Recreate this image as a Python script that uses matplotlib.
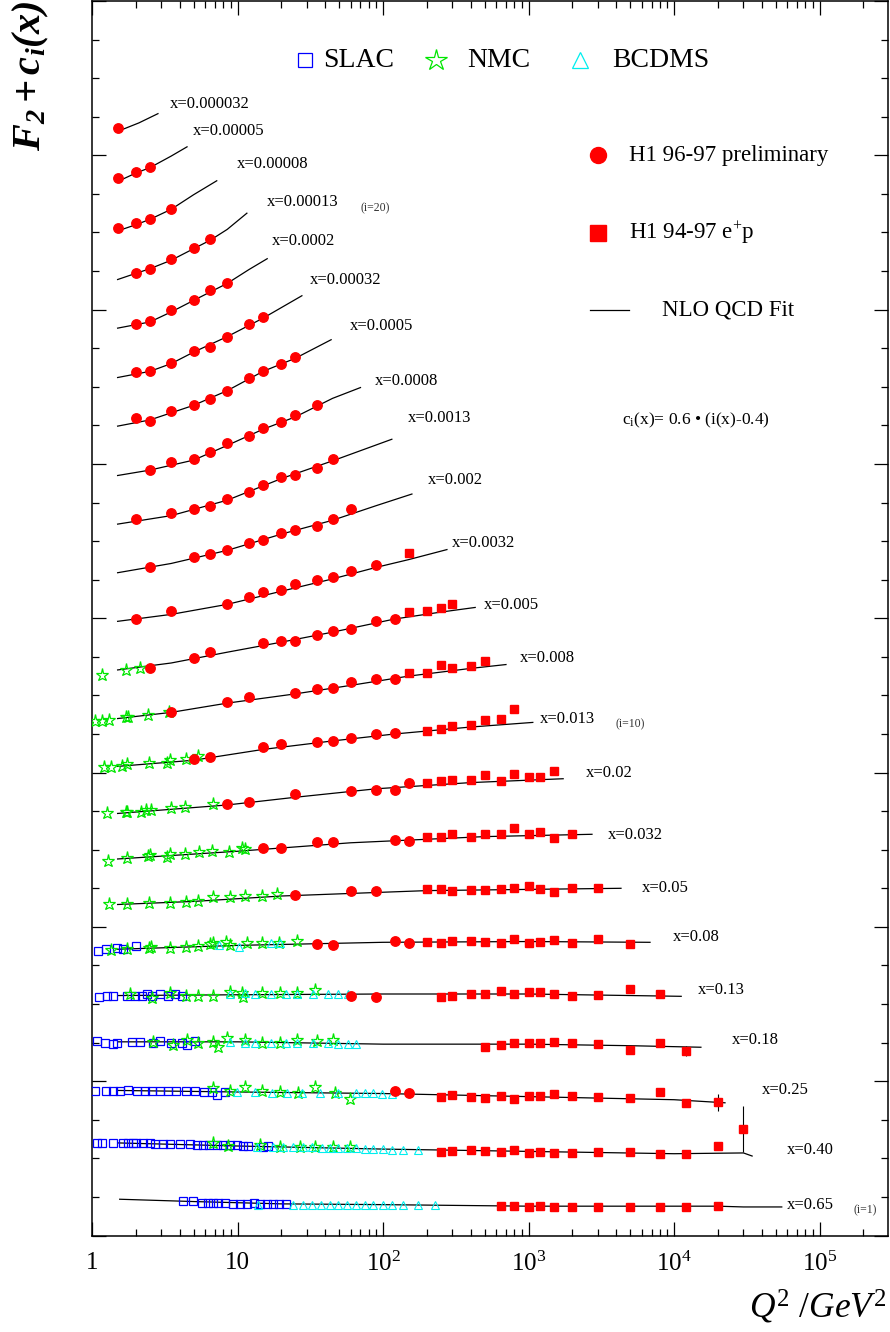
import matplotlib
matplotlib.use('Agg')
import matplotlib.pyplot as plt
from matplotlib.ticker import MultipleLocator, LogLocator, NullFormatter

plt.rcParams['font.family'] = 'Liberation Serif'
plt.rcParams['mathtext.fontset'] = 'custom'
plt.rcParams['mathtext.rm'] = 'Liberation Serif'
plt.rcParams['mathtext.it'] = 'Liberation Serif:italic'
plt.rcParams['mathtext.bf'] = 'Liberation Serif:bold:italic'

# x bins, i = 1 ... 23 ; all values below are F2 + c_i(x)
x_labels = ['0.65', '0.40', '0.25', '0.18', '0.13', '0.08', '0.05', '0.032', '0.02',
            '0.013', '0.008', '0.005', '0.0032', '0.002', '0.0013', '0.0008', '0.0005',
            '0.00032', '0.0002', '0.00013', '0.00008', '0.00005', '0.000032']

# NLO QCD fit curves
fit_q2 = [
    [1.55, 5, 20, 100, 1000, 20000, 30000, 55000],
    [1.5, 10, 100, 1000, 10000, 30000, 34400],
    [1.5, 10, 100, 1000, 10000, 22400],
    [1.5, 10, 100, 1000, 5000, 15300],
    [1.5, 10, 100, 1000, 11200],
    [1.5, 10, 100, 1000, 6840],
    [1.5, 5, 20, 200, 4320],
    [1.5, 10, 60, 500, 2730],
    [1.5, 8.5, 25, 90, 400, 1730],
    [1.5, 5, 15, 45, 120, 400, 1070],
    [1.5, 3.5, 8.5, 25, 60, 150, 400, 700],
    [1.5, 3.5, 8.5, 20, 45, 120, 250, 430],
    [1.5, 3.5, 8.5, 20, 45, 90, 150, 275],
    [1.5, 3.5, 8.5, 20, 45, 90, 158],
    [1.5, 3.5, 8.5, 20, 45, 115],
    [1.5, 2.5, 5, 8.5, 15, 25, 45, 70],
    [1.5, 2.5, 5, 8.5, 15, 25, 44],
    [1.5, 2.5, 3.5, 5, 8.5, 15, 27.7],
    [1.5, 2.5, 3.5, 5, 8.5, 12, 16],
    [1.5, 2, 2.5, 3.5, 5, 6.5, 8.5, 11.6],
    [1.5, 2, 2.5, 3.5, 5, 7.2],
    [1.5, 2, 2.5, 3.5, 4.5],
    [1.5, 2.1, 2.84],
]
fit_y = [
    [0.47, 0.44, 0.41, 0.40, 0.38, 0.38, 0.37, 0.37],
    [1.20, 1.16, 1.12, 1.09, 1.06, 1.07, 1.03],
    [1.88, 1.86, 1.84, 1.80, 1.76, 1.72],
    [2.51, 2.51, 2.48, 2.48, 2.46, 2.44],
    [3.11, 3.12, 3.13, 3.13, 3.10],
    [3.71, 3.76, 3.80, 3.81, 3.80],
    [4.29, 4.33, 4.40, 4.47, 4.50],
    [4.88, 4.98, 5.09, 5.17, 5.20],
    [5.47, 5.58, 5.68, 5.79, 5.87, 5.92],
    [6.08, 6.16, 6.30, 6.41, 6.50, 6.59, 6.65],
    [6.70, 6.78, 6.90, 7.02, 7.13, 7.25, 7.35, 7.40],
    [7.33, 7.42, 7.56, 7.69, 7.82, 7.99, 8.08, 8.14],
    [7.96, 8.05, 8.18, 8.35, 8.51, 8.66, 8.76, 8.89],
    [8.59, 8.71, 8.88, 9.09, 9.27, 9.46, 9.61],
    [9.22, 9.33, 9.53, 9.81, 10.04, 10.32],
    [9.85, 9.92, 10.05, 10.24, 10.45, 10.61, 10.85, 10.99],
    [10.49, 10.57, 10.76, 10.95, 11.20, 11.37, 11.61],
    [11.12, 11.20, 11.30, 11.45, 11.65, 11.89, 12.18],
    [11.76, 11.84, 11.97, 12.12, 12.34, 12.52, 12.66],
    [12.39, 12.47, 12.53, 12.64, 12.79, 12.90, 13.04, 13.25],
    [13.02, 13.10, 13.17, 13.30, 13.49, 13.67],
    [13.66, 13.77, 13.84, 13.99, 14.11],
    [14.31, 14.42, 14.54],
]

# H1 96-97 preliminary (circles)
h1c_bins = [3, 5, 6, 7, 8, 9, 10, 11, 12, 13, 14, 15, 16, 17, 18, 19, 20, 21, 22, 23]
h1c_q2 = [
    [120, 150],
    [60, 90],
    [35, 45, 120, 150],
    [25, 60, 90],
    [15, 20, 35, 45, 120, 150],
    [8.5, 12, 25, 60, 90, 120, 150],
    [5, 6.5, 15, 20, 35, 45, 60, 90, 120],
    [3.5, 8.5, 12, 25, 35, 45, 60, 90, 120],
    [2.5, 5, 6.5, 15, 20, 25, 35, 45, 60, 90, 120],
    [2, 3.5, 8.5, 12, 15, 20, 25, 35, 45, 60, 90],
    [2.5, 5, 6.5, 8.5, 12, 15, 20, 25, 35, 45, 60],
    [2, 3.5, 5, 6.5, 8.5, 12, 15, 20, 25, 35, 45],
    [2.5, 3.5, 5, 6.5, 8.5, 12, 15, 20, 25, 35],
    [2, 2.5, 3.5, 5, 6.5, 8.5, 12, 15, 20, 25],
    [2, 2.5, 3.5, 5, 6.5, 8.5, 12, 15],
    [2, 2.5, 3.5, 5, 6.5, 8.5],
    [2, 2.5, 3.5, 5, 6.5],
    [1.5, 2, 2.5, 3.5],
    [1.5, 2, 2.5],
    [1.5],
]
h1c_f2 = [
    [1.87, 1.85],
    [3.11, 3.09],
    [3.78, 3.76, 3.82, 3.79],
    [4.41, 4.46, 4.46],
    [5.02, 5.02, 5.10, 5.10, 5.13, 5.11],
    [5.59, 5.62, 5.72, 5.76, 5.78, 5.78, 5.87],
    [6.17, 6.20, 6.33, 6.37, 6.39, 6.41, 6.45, 6.50, 6.51],
    [6.78, 6.92, 6.98, 7.03, 7.08, 7.10, 7.17, 7.21, 7.21],
    [7.36, 7.49, 7.56, 7.68, 7.71, 7.71, 7.78, 7.83, 7.86, 7.97, 7.99],
    [7.99, 8.09, 8.19, 8.28, 8.34, 8.37, 8.45, 8.50, 8.53, 8.61, 8.69],
    [8.67, 8.79, 8.83, 8.89, 8.98, 9.02, 9.10, 9.15, 9.20, 9.28, 9.42],
    [9.28, 9.36, 9.42, 9.46, 9.55, 9.64, 9.73, 9.83, 9.86, 9.95, 10.07],
    [9.92, 10.02, 10.06, 10.16, 10.27, 10.36, 10.47, 10.54, 10.63, 10.77],
    [10.59, 10.56, 10.68, 10.76, 10.84, 10.95, 11.12, 11.21, 11.29, 11.38],
    [11.19, 11.20, 11.31, 11.46, 11.52, 11.65, 11.82, 11.90],
    [11.82, 11.85, 11.99, 12.13, 12.26, 12.35],
    [12.48, 12.53, 12.65, 12.80, 12.91],
    [13.06, 13.12, 13.18, 13.31],
    [13.70, 13.79, 13.85],
    [14.36],
]

# H1 94-97 e+p (squares)
h1s_bins = [1, 2, 3, 4, 5, 6, 7, 8, 9, 10, 11, 12, 13]
h1s_q2 = [
    [650, 800, 1000, 1200, 1500, 2000, 3000, 5000, 8000, 12000, 20000],
    [250, 300, 400, 500, 650, 800, 1000, 1200, 1500, 2000, 3000, 5000, 8000, 12000, 20000, 30000],
    [250, 300, 400, 500, 650, 800, 1000, 1200, 1500, 2000, 3000, 5000, 8000, 12000, 20000],
    [500, 650, 800, 1000, 1200, 1500, 2000, 3000, 5000, 8000, 12000],
    [250, 300, 400, 500, 650, 800, 1000, 1200, 1500, 2000, 3000, 5000, 8000],
    [200, 250, 300, 400, 500, 650, 800, 1000, 1200, 1500, 2000, 3000, 5000],
    [200, 250, 300, 400, 500, 650, 800, 1000, 1200, 1500, 2000, 3000],
    [200, 250, 300, 400, 500, 650, 800, 1000, 1200, 1500, 2000],
    [200, 250, 300, 400, 500, 650, 800, 1000, 1200, 1500],
    [200, 250, 300, 400, 500, 650, 800],
    [150, 200, 250, 300, 400, 500],
    [150, 200, 250, 300],
    [150],
]
h1s_f2 = [
    [0.38, 0.38, 0.37, 0.38, 0.37, 0.37, 0.37, 0.37, 0.37, 0.37, 0.38],
    [1.08, 1.10, 1.11, 1.10, 1.08, 1.11, 1.07, 1.08, 1.07, 1.07, 1.08, 1.08, 1.06, 1.06, 1.16, 1.38],
    [1.79, 1.82, 1.79, 1.78, 1.81, 1.77, 1.81, 1.81, 1.83, 1.81, 1.79, 1.78, 1.86, 1.72, 1.73],
    [2.44, 2.47, 2.49, 2.49, 2.49, 2.51, 2.49, 2.48, 2.40, 2.49, 2.39],
    [3.09, 3.10, 3.13, 3.13, 3.17, 3.13, 3.15, 3.15, 3.13, 3.10, 3.12, 3.19, 3.13],
    [3.80, 3.79, 3.82, 3.82, 3.80, 3.79, 3.84, 3.79, 3.80, 3.83, 3.79, 3.84, 3.78],
    [4.49, 4.49, 4.46, 4.48, 4.48, 4.49, 4.50, 4.53, 4.49, 4.45, 4.51, 4.51],
    [5.16, 5.16, 5.20, 5.17, 5.21, 5.20, 5.28, 5.20, 5.23, 5.15, 5.21],
    [5.86, 5.89, 5.91, 5.91, 5.97, 5.89, 5.98, 5.94, 5.94, 6.02],
    [6.54, 6.56, 6.60, 6.61, 6.68, 6.69, 6.82],
    [7.29, 7.29, 7.39, 7.36, 7.38, 7.44],
    [8.08, 8.09, 8.13, 8.18],
    [8.85],
]
# the few visible error bars (bin, Q2, error)
err_bins = [2, 2, 3, 4, 9]
err_q2 = [30000, 20000, 20000, 12000, 1500]
err_size = [0.30, 0.05, 0.11, 0.07, 0.04]

# SLAC
slac_bins = [1, 2, 3, 4, 5, 6]
slac_q2 = [
    [4.22, 4.94, 5.70, 6.27, 6.79, 7.35, 8.21, 9.31, 10.4, 11.6, 13.0, 14.3, 15.9, 17.5, 19.3, 21.6],
    [1.08, 1.17, 1.39, 1.63, 1.77, 1.91, 2.0, 2.24, 2.5, 2.71, 3.07, 3.43, 4.02, 4.71, 5.27, 5.79,
     6.36, 7.22, 7.94, 8.86, 9.9, 10.9, 11.8, 15.0, 16.2],
    [1.05, 1.25, 1.39, 1.56, 1.77, 2.04, 2.31, 2.59, 2.93, 3.33, 3.78, 4.42, 5.10, 5.88, 6.67, 7.22, 8.21],
    [1.08, 1.23, 1.39, 1.49, 1.88, 2.14, 2.62, 2.93, 3.49, 4.15, 4.50, 5.10],
    [1.12, 1.27, 1.39, 1.74, 1.97, 2.21, 2.39, 2.59, 2.93, 3.33, 3.72, 4.15],
    [1.10, 1.25, 1.49, 1.63, 2.0],
]
slac_f2 = [
    [0.45, 0.45, 0.42, 0.42, 0.42, 0.42, 0.42, 0.41, 0.41, 0.41, 0.42, 0.41, 0.41, 0.41, 0.41, 0.41],
    [1.20, 1.20, 1.20, 1.20, 1.20, 1.20, 1.20, 1.20, 1.20, 1.19, 1.19, 1.19, 1.19, 1.19, 1.17, 1.17,
     1.17, 1.17, 1.17, 1.17, 1.17, 1.16, 1.16, 1.15, 1.16],
    [1.87, 1.87, 1.87, 1.87, 1.88, 1.87, 1.87, 1.87, 1.87, 1.87, 1.87, 1.87, 1.87, 1.86, 1.86, 1.82, 1.86],
    [2.52, 2.49, 2.48, 2.49, 2.51, 2.51, 2.49, 2.52, 2.49, 2.49, 2.47, 2.52],
    [3.09, 3.10, 3.10, 3.10, 3.10, 3.11, 3.13, 3.11, 3.13, 3.10, 3.13, 3.11],
    [3.69, 3.71, 3.72, 3.71, 3.75],
]

# NMC
nmc_bins = [2, 3, 4, 5, 6, 7, 8, 9, 10, 11, 12]
nmc_q2 = [
    [6.79, 8.6, 14.3, 19.6, 26.9, 34.0, 45.3, 59.3],
    [6.79, 8.86, 11.3, 14.7, 19.6, 26.0, 34.0, 46.7, 59.3],
    [2.62, 3.60, 4.50, 5.35, 6.79, 7.35, 8.43, 11.3, 14.7, 19.6, 25.7, 35.2, 45.3],
    [1.82, 2.59, 3.43, 4.42, 5.35, 6.79, 8.86, 10.7, 10.9, 14.7, 19.6, 25.7, 34.0],
    [1.35, 1.74, 2.46, 2.54, 3.43, 4.42, 5.35, 6.46, 6.79, 8.4, 8.86, 11.6, 14.7, 19.3, 25.7],
    [1.31, 1.74, 2.46, 3.43, 4.42, 5.35, 6.79, 8.86, 11.3, 14.7, 18.7],
    [1.29, 1.74, 2.43, 2.50, 3.28, 3.43, 4.36, 5.43, 6.67, 8.73, 10.7, 11.3],
    [1.27, 1.71, 1.74, 2.17, 2.35, 2.54, 3.49, 4.36, 6.79],
    [1.21, 1.35, 1.61, 1.74, 2.46, 3.28, 3.43, 4.42, 5.35],
    [1.05, 1.17, 1.31, 1.71, 1.77, 2.43, 3.38],
    [1.17, 1.71, 2.14],
]
nmc_f2 = [
    [1.20, 1.16, 1.17, 1.15, 1.15, 1.15, 1.15, 1.15],
    [1.91, 1.87, 1.92, 1.87, 1.86, 1.85, 1.92, 1.85, 1.77],
    [2.51, 2.47, 2.54, 2.49, 2.51, 2.44, 2.56, 2.54, 2.49, 2.49, 2.54, 2.52, 2.54],
    [3.13, 3.08, 3.14, 3.10, 3.10, 3.11, 3.16, 3.14, 3.09, 3.14, 3.14, 3.14, 3.18],
    [3.70, 3.71, 3.72, 3.74, 3.72, 3.74, 3.75, 3.78, 3.79, 3.80, 3.76, 3.79, 3.79, 3.79, 3.82],
    [4.29, 4.29, 4.31, 4.31, 4.32, 4.33, 4.39, 4.39, 4.40, 4.40, 4.42],
    [4.86, 4.89, 4.92, 4.93, 4.90, 4.94, 4.95, 4.97, 4.98, 4.97, 5.02, 5.01],
    [5.47, 5.49, 5.49, 5.49, 5.51, 5.51, 5.54, 5.56, 5.59],
    [6.07, 6.07, 6.08, 6.11, 6.13, 6.13, 6.16, 6.17, 6.21],
    [6.67, 6.67, 6.68, 6.72, 6.72, 6.74, 6.78],
    [7.27, 7.33, 7.36],
]

# BCDMS
bcdms_bins = [1, 2, 3, 4, 5, 6]
bcdms_q2 = [
    [13.8, 24.0, 28.2, 32.5, 37.5, 43.2, 49.0, 56.4, 65.0, 74.9, 85.4, 100, 115, 137, 173, 228],
    [13.6, 17.5, 20.5, 24.0, 28.2, 32.5, 38.1, 43.2, 49.0, 56.4, 65.0, 74.9, 85.4, 100, 115, 137, 173],
    [9.9, 13.2, 17.3, 21.9, 27.7, 36.9, 49.0, 65.0, 74.9, 85.4, 98.6, 115],
    [8.86, 11.3, 13.2, 17.0, 21.6, 25.7, 33.0, 41.9, 49.0, 57.3, 65.0],
    [8.86, 11.3, 13.2, 17.0, 21.6, 25.7, 33.0, 41.9, 49.0, 57.3],
    [7.45, 10.3, 17.0, 19.6],
]
bcdms_f2 = [
    [0.40, 0.40, 0.40, 0.40, 0.40, 0.40, 0.40, 0.40, 0.40, 0.40, 0.40, 0.40, 0.40, 0.40, 0.40, 0.40],
    [1.15, 1.15, 1.15, 1.15, 1.15, 1.15, 1.14, 1.14, 1.14, 1.14, 1.14, 1.12, 1.12, 1.12, 1.11, 1.11, 1.11],
    [1.86, 1.86, 1.85, 1.85, 1.85, 1.85, 1.85, 1.85, 1.85, 1.85, 1.84, 1.84],
    [2.51, 2.49, 2.49, 2.49, 2.49, 2.49, 2.49, 2.49, 2.48, 2.48, 2.48],
    [3.13, 3.14, 3.13, 3.13, 3.13, 3.13, 3.13, 3.13, 3.13, 3.13],
    [3.76, 3.74, 3.79, 3.79],
]

# where the x=... labels sit (Q2, F2+c)
lab_q2 = [59800, 59800, 40300, 25000, 14600, 9840, 6030, 3520, 2490, 1200, 874, 495,
          298, 204, 148, 88.1, 59.3, 31.5, 17.3, 15.9, 9.92, 4.94, 3.44]
lab_y = [0.40, 1.11, 1.88, 2.53, 3.18, 3.87, 4.50, 5.19, 5.99, 6.69, 7.48, 8.17,
         8.97, 9.79, 10.59, 11.08, 11.79, 12.39, 12.89, 13.39, 13.89, 14.31, 14.67]

fig = plt.figure(figsize=(8.9, 13.32), dpi=100)
ax = fig.add_axes([92 / 890, 1 - 1235.5 / 1332, 795.7 / 890, 1234.5 / 1332])

for q, y in zip(fit_q2, fit_y):
    ax.plot(q, y, '-', color='black', lw=0.9, zorder=2)

for b, q, y in zip(slac_bins, slac_q2, slac_f2):
    ax.plot(q, y, 's', ms=6.3, mfc='none', mec='blue', mew=0.9, zorder=3)
for b, q, y in zip(nmc_bins, nmc_q2, nmc_f2):
    ax.plot(q, y, '*', ms=9.5, mfc='none', mec='#00e600', mew=0.9, zorder=3)
for b, q, y in zip(bcdms_bins, bcdms_q2, bcdms_f2):
    ax.plot(q, y, '^', ms=6.3, mfc='none', mec='#00eeee', mew=0.8, zorder=3)
for b, q, y in zip(h1c_bins, h1c_q2, h1c_f2):
    ax.plot(q, y, 'o', ms=6.8, color='red', mec='red', zorder=4)
for b, q, y in zip(h1s_bins, h1s_q2, h1s_f2):
    ax.plot(q, y, 's', ms=5.6, color='red', mec='red', zorder=4)

for b, q, e in zip(err_bins, err_q2, err_size):
    k = h1s_bins.index(b)
    yv = h1s_f2[k][h1s_q2[k].index(q)]
    ax.errorbar([q], [yv], yerr=[e], fmt='none', ecolor='black', elinewidth=0.8, zorder=3)

for k, lab in enumerate(x_labels):
    ax.text(lab_q2[k], lab_y[k], 'x=' + lab, fontsize=12, ha='left', va='center')
ax.text(69.5, 13.31, '(i=20)', fontsize=8.5, color='#333333', ha='left', va='center')
ax.text(3934, 6.62, '(i=10)', fontsize=8.5, color='#333333', ha='left', va='center')
ax.text(170000, 0.33, '(i=1)', fontsize=8.5, color='#333333', ha='left', va='center')

# legend, drawn by hand in axes fractions
tr = ax.transAxes
ax.plot([0.2677], [0.952], 's', ms=10.5, mfc='none', mec='blue', mew=0.9, transform=tr)
ax.text(0.2903, 0.952, 'SLAC', fontsize=20, ha='left', va='center', transform=tr)
ax.plot([0.4323], [0.952], '*', ms=16, mfc='none', mec='#00e600', mew=0.9, transform=tr)
ax.text(0.4713, 0.952, 'NMC', fontsize=20, ha='left', va='center', transform=tr)
ax.plot([0.6133], [0.952], '^', ms=12, mfc='none', mec='#00eeee', mew=0.9, transform=tr)
ax.text(0.6535, 0.952, 'BCDMS', fontsize=20, ha='left', va='center', transform=tr)

ax.plot([0.6359], [0.8752], 'o', ms=11.5, color='red', transform=tr)
ax.text(0.6749, 0.8752, 'H1 96-97 preliminary', fontsize=16.5, ha='left', va='center', transform=tr)
ax.plot([0.6359], [0.812], 's', ms=11, color='red', transform=tr)
ax.text(0.6749, 0.812, 'H1 94-97 e$^{+}$p', fontsize=16.5, ha='left', va='center', transform=tr)
ax.plot([0.6259, 0.6749], [0.7497, 0.7497], '-', color='black', lw=0.9, transform=tr)
ax.text(0.7164, 0.7497, 'NLO QCD Fit', fontsize=16.5, ha='left', va='center', transform=tr)
ax.text(0.666, 0.6605, 'c$_{\\mathrm{i}}$(x)= 0.6 \u2022 (i(x)-0.4)', fontsize=12.5,
        ha='left', va='center', transform=tr)

ax.set_xscale('log')
ax.set_xlim(1, 2.94e5)
ax.set_ylim(0, 16)
ax.set_xticks([1, 10, 100, 1e3, 1e4, 1e5])
ax.set_xticklabels(['1', '10', '$10^{2}$', '$10^{3}$', '$10^{4}$', '$10^{5}$'], fontsize=18)
ax.xaxis.set_minor_locator(LogLocator(base=10, subs=range(2, 10), numticks=20))
ax.xaxis.set_minor_formatter(NullFormatter())
ax.yaxis.set_major_locator(MultipleLocator(2))
ax.yaxis.set_minor_locator(MultipleLocator(0.5))
ax.set_yticklabels([])
ax.tick_params(which='both', direction='in', top=True, right=True, width=0.9)
ax.tick_params(which='major', length=10, pad=12)
ax.tick_params(which='minor', length=5)
for s in ax.spines.values():
    s.set_linewidth(1.1)

fig.text(887 / 890, 0.010, r'$Q^2\ /GeV^2$', fontsize=25.5, ha='right', va='baseline')
fig.text(0.035, 0.999, r'$\mathbf{F_2+c_i(x)}$', fontsize=29, rotation=90, ha='center', va='top')

fig.savefig('out.png', dpi=100)
